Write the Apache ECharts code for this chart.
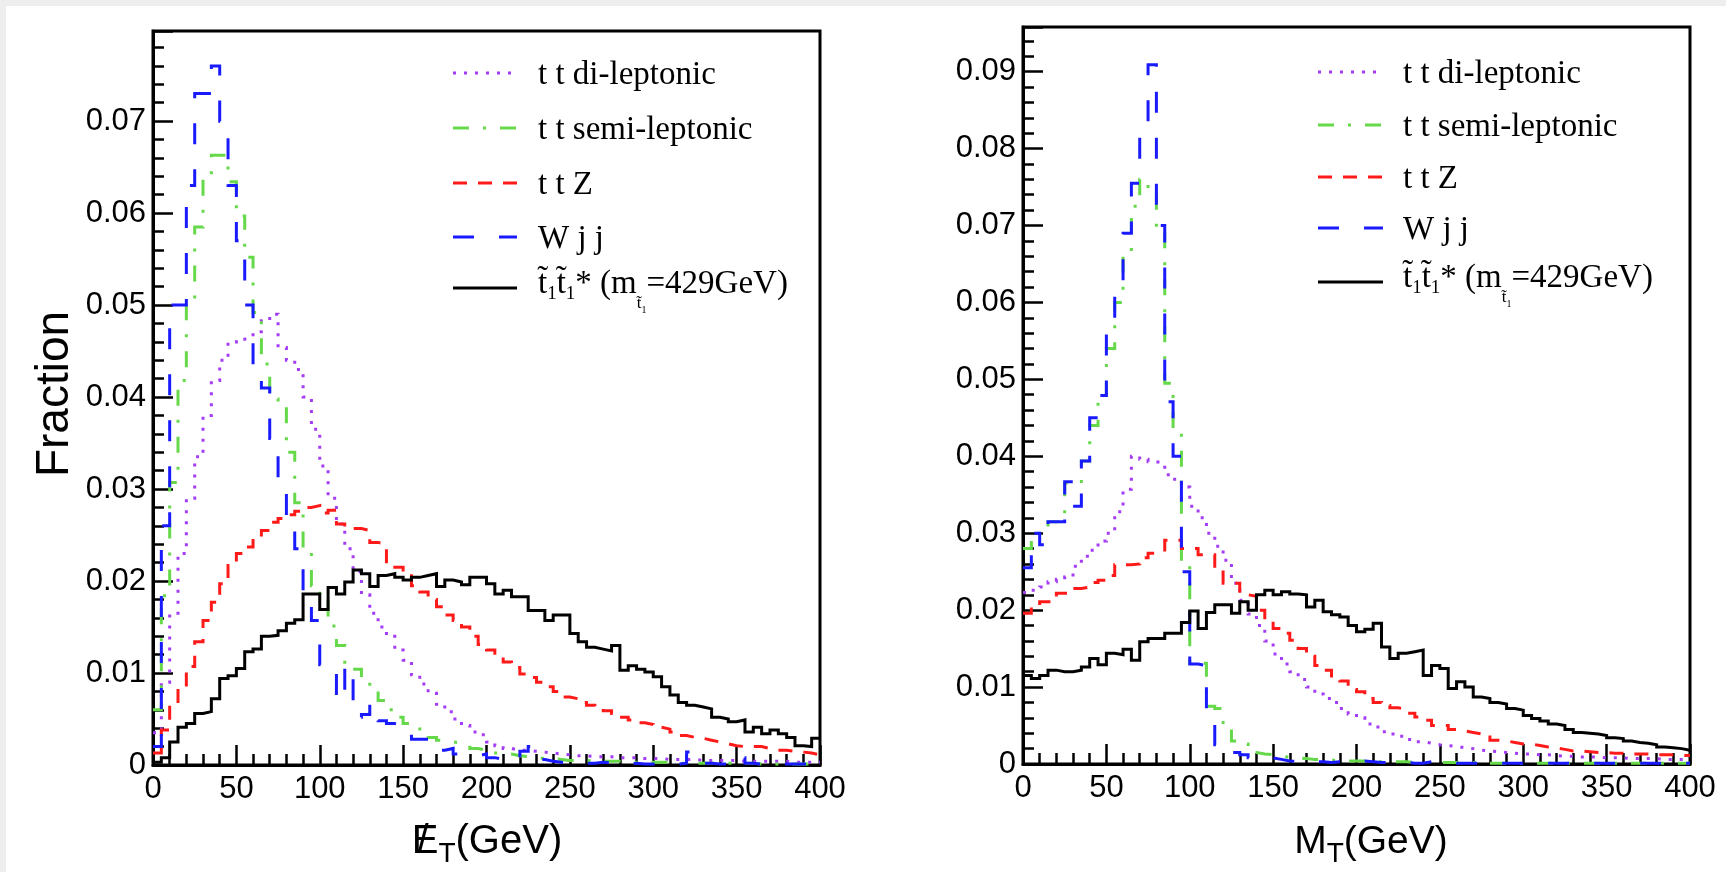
<!DOCTYPE html>
<html>
<head>
<meta charset="utf-8">
<script src="https://cdn.jsdelivr.net/npm/echarts@6/dist/echarts.min.js"></script>
<style>html,body{margin:0;padding:0;background:#fff;}#c{width:1726px;height:872px;}</style>
</head>
<body>
<div id="c"></div>
<script>
// ---------------- DATA ----------------
// Histogram binning: 80 bins of 5 GeV over 0-400 GeV (bin edges)
const BIN_EDGES = Array.from({length: 81}, (_, i) => i * 5);

const SERIES_NAMES = ['t t di-leptonic', 't t semi-leptonic', 't t Z', 'W j j', 'stop'];

// Left panel: missing E_T
const MET_DILEP = [0.0035,0.0090,0.0165,0.0230,0.0290,0.0335,0.0380,0.0418,0.0440,0.0460,
 0.0463,0.0465,0.0471,0.0483,0.0490,0.0454,0.0440,0.0430,0.0400,0.0365,
 0.0325,0.0290,0.0262,0.0235,0.0210,0.0185,0.0165,0.0150,0.0140,0.0125,
 0.0114,0.0098,0.0088,0.0078,0.0066,0.0058,0.0050,0.0043,0.0036,0.0033,
 0.0025,0.0021,0.0018,0.0016,0.0016,0.0015,0.0014,0.0013,0.0012,0.0011,
 0.0010,0.0010,0.0009,0.0009,0.0009,0.0008,0.0008,0.0008,0.0007,0.0007,
 0.0007,0.0006,0.0006,0.0006,0.0006,0.0005,0.0005,0.0005,0.0005,0.0005,
 0.0004,0.0004,0.0004,0.0004,0.0004,0.0004,0.0003,0.0003,0.0003,0.0003];
const MET_SEMI = [0.0060,0.0184,0.0307,0.0418,0.0505,0.0585,0.0641,0.0663,0.0663,0.0634,
 0.0597,0.0552,0.0492,0.0436,0.0398,0.0395,0.0340,0.0285,0.0235,0.0195,
 0.0180,0.0151,0.0130,0.0108,0.0104,0.0090,0.0080,0.0070,0.0060,0.0052,
 0.0045,0.0044,0.0035,0.0030,0.0027,0.0025,0.0024,0.0022,0.0018,0.0016,
 0.0013,0.0013,0.0012,0.0010,0.0009,0.0008,0.0007,0.0007,0.0006,0.0005,
 0.0005,0.0005,0.0004,0.0004,0.0004,0.0004,0.0003,0.0003,0.0003,0.0003,
 0.0003,0.0003,0.0002,0.0002,0.0002,0.0002,0.0002,0.0002,0.0002,0.0002,
 0.0002,0.0002,0.0001,0.0001,0.0001,0.0001,0.0001,0.0001,0.0001,0.0001];
const MET_TTZ = [0.0013,0.0038,0.0067,0.0085,0.0107,0.0134,0.0157,0.0177,0.0197,0.0217,
 0.0230,0.0237,0.0248,0.0255,0.0264,0.0268,0.0272,0.0276,0.0280,0.0282,
 0.0274,0.0277,0.0262,0.0257,0.0257,0.0255,0.0242,0.0240,0.0218,0.0215,
 0.0210,0.0195,0.0188,0.0180,0.0172,0.0163,0.0157,0.0150,0.0140,0.0131,
 0.0125,0.0118,0.0112,0.0106,0.0099,0.0095,0.0090,0.0085,0.0080,0.0074,
 0.0072,0.0068,0.0065,0.0062,0.0059,0.0056,0.0052,0.0049,0.0046,0.0044,
 0.0041,0.0039,0.0036,0.0032,0.0030,0.0029,0.0027,0.0025,0.0023,0.0021,
 0.0020,0.0020,0.0020,0.0018,0.0016,0.0016,0.0015,0.0014,0.0013,0.0011];
const MET_WJJ = [0.0020,0.0260,0.0500,0.0500,0.0630,0.0730,0.0730,0.0760,0.0700,0.0630,
 0.0570,0.0500,0.0420,0.0410,0.0355,0.0300,0.0265,0.0235,0.0175,0.0157,
 0.0109,0.0109,0.0070,0.0108,0.0052,0.0055,0.0066,0.0048,0.0045,0.0043,
 0.0035,0.0028,0.0028,0.0020,0.0016,0.0018,0.0012,0.0010,0.0010,0.0012,
 0.0008,0.0006,0.0005,0.0004,0.0015,0.0020,0.0006,0.0004,0.0003,0.0002,
 0.0003,0.0002,0.0002,0.0003,0.0002,0.0002,0.0001,0.0002,0.0001,0.0001,
 0.0002,0.0001,0.0001,0.0002,0.0014,0.0012,0.0002,0.0001,0.0001,0.0001,
 0.0008,0.0002,0.0001,0.0001,0.0001,0.0001,0.0001,0.0001,0.0001,0.0001];
const MET_STOP = [0.0003,0.0008,0.0025,0.0041,0.0045,0.0056,0.0058,0.0072,0.0094,0.0097,
 0.0105,0.0123,0.0126,0.0140,0.0141,0.0146,0.0154,0.0158,0.0186,0.0186,
 0.0169,0.0193,0.0186,0.0199,0.0212,0.0208,0.0194,0.0206,0.0208,0.0204,
 0.0201,0.0204,0.0206,0.0208,0.0194,0.0201,0.0199,0.0196,0.0204,0.0204,
 0.0197,0.0186,0.0190,0.0183,0.0183,0.0168,0.0168,0.0157,0.0163,0.0163,
 0.0143,0.0134,0.0128,0.0126,0.0124,0.0130,0.0103,0.0108,0.0104,0.0101,
 0.0096,0.0085,0.0076,0.0068,0.0065,0.0063,0.0061,0.0052,0.0050,0.0047,
 0.0049,0.0036,0.0041,0.0034,0.0038,0.0034,0.0030,0.0021,0.0020,0.0029];

// Right panel: M_T
const MT_DILEP = [0.0223,0.0226,0.0230,0.0237,0.0240,0.0243,0.0257,0.0270,0.0278,0.0290,
 0.0300,0.0328,0.0357,0.0400,0.0396,0.0393,0.0391,0.0376,0.0370,0.0360,
 0.0335,0.0320,0.0300,0.0283,0.0265,0.0235,0.0213,0.0195,0.0180,0.0160,
 0.0143,0.0130,0.0120,0.0110,0.0100,0.0091,0.0085,0.0080,0.0072,0.0065,
 0.0060,0.0052,0.0048,0.0042,0.0039,0.0036,0.0032,0.0029,0.0027,0.0025,
 0.0024,0.0023,0.0021,0.0020,0.0018,0.0017,0.0016,0.0015,0.0014,0.0013,
 0.0013,0.0012,0.0012,0.0011,0.0010,0.0010,0.0009,0.0009,0.0009,0.0008,
 0.0008,0.0008,0.0007,0.0007,0.0007,0.0007,0.0006,0.0006,0.0006,0.0006];
const MT_SEMI = [0.0280,0.0295,0.0300,0.0315,0.0315,0.0365,0.0365,0.0394,0.0440,0.0479,
 0.0540,0.0600,0.0660,0.0725,0.0760,0.0740,0.0690,0.0495,0.0430,0.0257,
 0.0131,0.0131,0.0075,0.0072,0.0045,0.0030,0.0026,0.0015,0.0013,0.0012,
 0.0010,0.0009,0.0008,0.0007,0.0006,0.0006,0.0005,0.0005,0.0004,0.0004,
 0.0004,0.0003,0.0003,0.0003,0.0003,0.0003,0.0002,0.0002,0.0002,0.0002,
 0.0002,0.0002,0.0002,0.0002,0.0002,0.0001,0.0001,0.0001,0.0001,0.0001,
 0.0001,0.0001,0.0001,0.0001,0.0001,0.0001,0.0001,0.0001,0.0001,0.0001,
 0.0001,0.0001,0.0001,0.0001,0.0001,0.0001,0.0001,0.0001,0.0001,0.0001];
const MT_TTZ = [0.0196,0.0206,0.0211,0.0211,0.0222,0.0222,0.0228,0.0230,0.0236,0.0239,
 0.0245,0.0259,0.0259,0.0260,0.0268,0.0274,0.0276,0.0291,0.0291,0.0280,
 0.0280,0.0272,0.0272,0.0255,0.0235,0.0235,0.0220,0.0218,0.0200,0.0185,
 0.0176,0.0170,0.0161,0.0150,0.0140,0.0128,0.0122,0.0112,0.0108,0.0097,
 0.0094,0.0085,0.0080,0.0076,0.0073,0.0071,0.0066,0.0061,0.0057,0.0050,
 0.0050,0.0045,0.0043,0.0041,0.0039,0.0035,0.0031,0.0030,0.0028,0.0026,
 0.0026,0.0024,0.0022,0.0021,0.0019,0.0017,0.0017,0.0016,0.0015,0.0015,
 0.0014,0.0014,0.0013,0.0013,0.0013,0.0012,0.0012,0.0012,0.0011,0.0011];
const MT_WJJ = [0.0255,0.0300,0.0285,0.0315,0.0315,0.0367,0.0335,0.0394,0.0450,0.0479,
 0.0560,0.0609,0.0690,0.0755,0.0833,0.0909,0.0700,0.0471,0.0400,0.0250,
 0.0130,0.0128,0.0055,0.0025,0.0018,0.0015,0.0012,0.0008,0.0006,0.0008,
 0.0006,0.0004,0.0003,0.0005,0.0003,0.0003,0.0002,0.0003,0.0002,0.0002,
 0.0004,0.0003,0.0002,0.0002,0.0001,0.0002,0.0001,0.0001,0.0003,0.0001,
 0.0002,0.0001,0.0001,0.0001,0.0001,0.0001,0.0001,0.0001,0.0001,0.0001,
 0.0001,0.0001,0.0001,0.0001,0.0001,0.0001,0.0001,0.0001,0.0001,0.0001,
 0.0001,0.0001,0.0001,0.0001,0.0001,0.0001,0.0001,0.0001,0.0001,0.0001];
const MT_STOP = [0.0115,0.0111,0.0115,0.0122,0.0120,0.0120,0.0122,0.0126,0.0137,0.0129,
 0.0144,0.0142,0.0149,0.0135,0.0159,0.0163,0.0163,0.0170,0.0170,0.0184,
 0.0199,0.0176,0.0197,0.0207,0.0207,0.0196,0.0211,0.0200,0.0220,0.0226,
 0.0220,0.0224,0.0221,0.0220,0.0204,0.0213,0.0198,0.0194,0.0191,0.0180,
 0.0172,0.0175,0.0183,0.0152,0.0137,0.0144,0.0146,0.0148,0.0115,0.0128,
 0.0124,0.0098,0.0107,0.0100,0.0087,0.0085,0.0080,0.0078,0.0072,0.0070,
 0.0063,0.0059,0.0056,0.0052,0.0050,0.0045,0.0041,0.0040,0.0039,0.0037,
 0.0034,0.0033,0.0030,0.0028,0.0027,0.0025,0.0022,0.0021,0.0020,0.0018];

const X_TICK_STEP = 50;
const Y_TICK_STEP = 0.01;
const LEFT_Y_MAX = 0.0798;
const RIGHT_Y_MAX = 0.0958;

// ---------------- STYLE ----------------
const SANS = "'Liberation Sans', Arial, Helvetica, sans-serif";
const SERIF = "'Liberation Serif', 'Times New Roman', Times, serif";
const TICK_FONT = 31;
const STYLES = [
  {color: '#a33cf4', dash: [3, 8], width: 3},
  {color: '#66d94a', dash: [16, 14, 3, 14], width: 3},
  {color: '#ff1a1a', dash: [14, 11], width: 3},
  {color: '#1a1aff', dash: [21, 25], width: 3},
  {color: '#000000', dash: 'solid', width: 3}
];

function toHist(vals) {
  const d = vals.map((v, i) => [BIN_EDGES[i], v]);
  d.push([BIN_EDGES[vals.length], vals[vals.length - 1]]);
  return d;
}

function makeSeries(idx, vals, panel) {
  const st = STYLES[idx];
  return {
    name: SERIES_NAMES[idx] + (panel ? ' (MT)' : ' (MET)'),
    type: 'line', step: 'end', xAxisIndex: panel, yAxisIndex: panel,
    symbol: 'none', silent: true, animation: false, clip: true, z: 2 + idx,
    data: toHist(vals),
    lineStyle: {color: st.color, width: st.width, type: st.dash, cap: 'butt', join: 'miter'}
  };
}

function xAxisCfg(gi) {
  return {
    gridIndex: gi, type: 'value', min: 0, max: 400, interval: X_TICK_STEP,
    axisLine: {show: true, onZero: false, lineStyle: {color: '#000', width: 3}},
    axisTick: {show: true, inside: true, length: 20, lineStyle: {color: '#000', width: 2.5}},
    minorTick: {show: true, splitNumber: 5, length: 11, lineStyle: {color: '#000', width: 2.5}},
    splitLine: {show: false}, minorSplitLine: {show: false},
    axisLabel: {color: '#000', fontSize: TICK_FONT, fontFamily: SANS, margin: 9}
  };
}
function yAxisCfg(gi, max) {
  return {
    gridIndex: gi, type: 'value', min: 0, max: max, interval: Y_TICK_STEP,
    axisLine: {show: true, onZero: false, lineStyle: {color: '#000', width: 3}},
    axisTick: {show: true, inside: true, length: 20, lineStyle: {color: '#000', width: 2.5}},
    minorTick: {show: true, splitNumber: 5, length: 11, lineStyle: {color: '#000', width: 2.5}},
    splitLine: {show: false}, minorSplitLine: {show: false},
    axisLabel: {color: '#000', fontSize: TICK_FONT, fontFamily: SANS, margin: 7, showMaxLabel: false,
      formatter: v => (Math.abs(v) < 1e-9 ? '0' : v.toFixed(2))}
  };
}

// text measurement for composite labels
const mctx = document.createElement('canvas').getContext('2d');
function fontOf(p) { return p.size + 'px ' + (p.fam || SANS); }
function tw(s, f) { mctx.font = f; return mctx.measureText(s).width; }
function pieces(x, y, parts, align) {
  const widths = parts.map(p => p.overlay ? 0 : tw(p.t, fontOf(p)));
  const total = widths.reduce((a, b) => a + b, 0);
  let cx = align === 'center' ? x - total / 2 : x;
  let prevW = 0;
  const els = [];
  parts.forEach((p, i) => {
    const f = fontOf(p);
    if (p.overlay) {
      els.push({type: 'text', silent: true, z: 50, style: {text: p.t, x: cx - prevW / 2 + (p.dx || 0), y: y + (p.dy || 0), font: f, fill: '#000', textAlign: 'center', textVerticalAlign: 'middle'}});
    } else {
      els.push({type: 'text', silent: true, z: 50, style: {text: p.t, x: cx + (p.dx || 0), y: y + (p.dy || 0), font: f, fill: '#000', textAlign: 'left', textVerticalAlign: 'middle'}});
      prevW = widths[i];
      cx += widths[i];
    }
  });
  return els;
}

function legendBlock(lx1, lx2, tx, rows) {
  const els = [];
  const simpleLabels = ['t t di-leptonic', 't t semi-leptonic', 't t Z', 'W j j'];
  for (let i = 0; i < 5; i++) {
    const st = STYLES[i];
    els.push({type: 'line', silent: true, z: 50, shape: {x1: lx1, y1: rows[i], x2: lx2, y2: rows[i]},
      style: {stroke: st.color, lineWidth: st.width, lineDash: st.dash === 'solid' ? null : st.dash}});
    if (i < 4) {
      els.push({type: 'text', silent: true, z: 50, style: {text: simpleLabels[i], x: tx, y: rows[i] + 2,
        font: '33px ' + SERIF, fill: '#000', textAlign: 'left', textVerticalAlign: 'middle'}});
    }
  }
  const yc = rows[4] - 4;
  els.push(...pieces(tx, yc, [
    {t: 't\u0303', size: 33, fam: SERIF},
    {t: '1', size: 19, fam: SERIF, dy: 10},
    {t: 't\u0303', size: 33, fam: SERIF},
    {t: '1', size: 19, fam: SERIF, dy: 10},
    {t: '* (m', size: 33, fam: SERIF},
    {t: 't\u0303', size: 17, fam: SERIF, dy: 20},
    {t: '1', size: 10, fam: SERIF, dy: 26},
    {t: '=429GeV)', size: 33, fam: SERIF}
  ], 'left'));
  return els;
}

const graphics = [
  {type: 'rect', silent: true, shape: {x: 0, y: 0, width: 1726, height: 6}, style: {fill: '#eeeeee'}},
  {type: 'rect', silent: true, shape: {x: 0, y: 0, width: 6, height: 872}, style: {fill: '#eeeeee'}},
  {type: 'text', silent: true, x: 55, y: 394, rotation: Math.PI / 2,
    style: {text: 'Fraction', font: '46px ' + SANS, fill: '#000', textAlign: 'center', textVerticalAlign: 'middle'}},
  ...pieces(487, 842, [
    {t: 'E', size: 40},
    {t: '/', size: 40, overlay: true, dx: -2},
    {t: 'T', size: 28, dy: 12},
    {t: '(GeV)', size: 40}
  ], 'center'),
  ...pieces(1371, 842, [
    {t: 'M', size: 39},
    {t: 'T', size: 28, dy: 12},
    {t: '(GeV)', size: 39}
  ], 'center'),
  ...legendBlock(453, 517, 538, [73, 128, 183, 237, 288]),
  ...legendBlock(1318, 1383, 1403, [72, 125, 177, 228, 282])
];

const option = {
  backgroundColor: '#ffffff',
  animation: false,
  grid: [
    {left: 153, top: 31, width: 667, height: 734, show: true, borderColor: '#000', borderWidth: 3, backgroundColor: 'transparent'},
    {left: 1023, top: 27, width: 667, height: 737, show: true, borderColor: '#000', borderWidth: 3, backgroundColor: 'transparent'}
  ],
  xAxis: [xAxisCfg(0), xAxisCfg(1)],
  yAxis: [yAxisCfg(0, LEFT_Y_MAX), yAxisCfg(1, RIGHT_Y_MAX)],
  series: [
    makeSeries(0, MET_DILEP, 0), makeSeries(1, MET_SEMI, 0), makeSeries(2, MET_TTZ, 0),
    makeSeries(3, MET_WJJ, 0), makeSeries(4, MET_STOP, 0),
    makeSeries(0, MT_DILEP, 1), makeSeries(1, MT_SEMI, 1), makeSeries(2, MT_TTZ, 1),
    makeSeries(3, MT_WJJ, 1), makeSeries(4, MT_STOP, 1)
  ],
  graphic: graphics
};

const chart = echarts.init(document.getElementById('c'), null, {renderer: 'canvas', width: 1726, height: 872});
chart.setOption(option);
</script>
</body>
</html>
